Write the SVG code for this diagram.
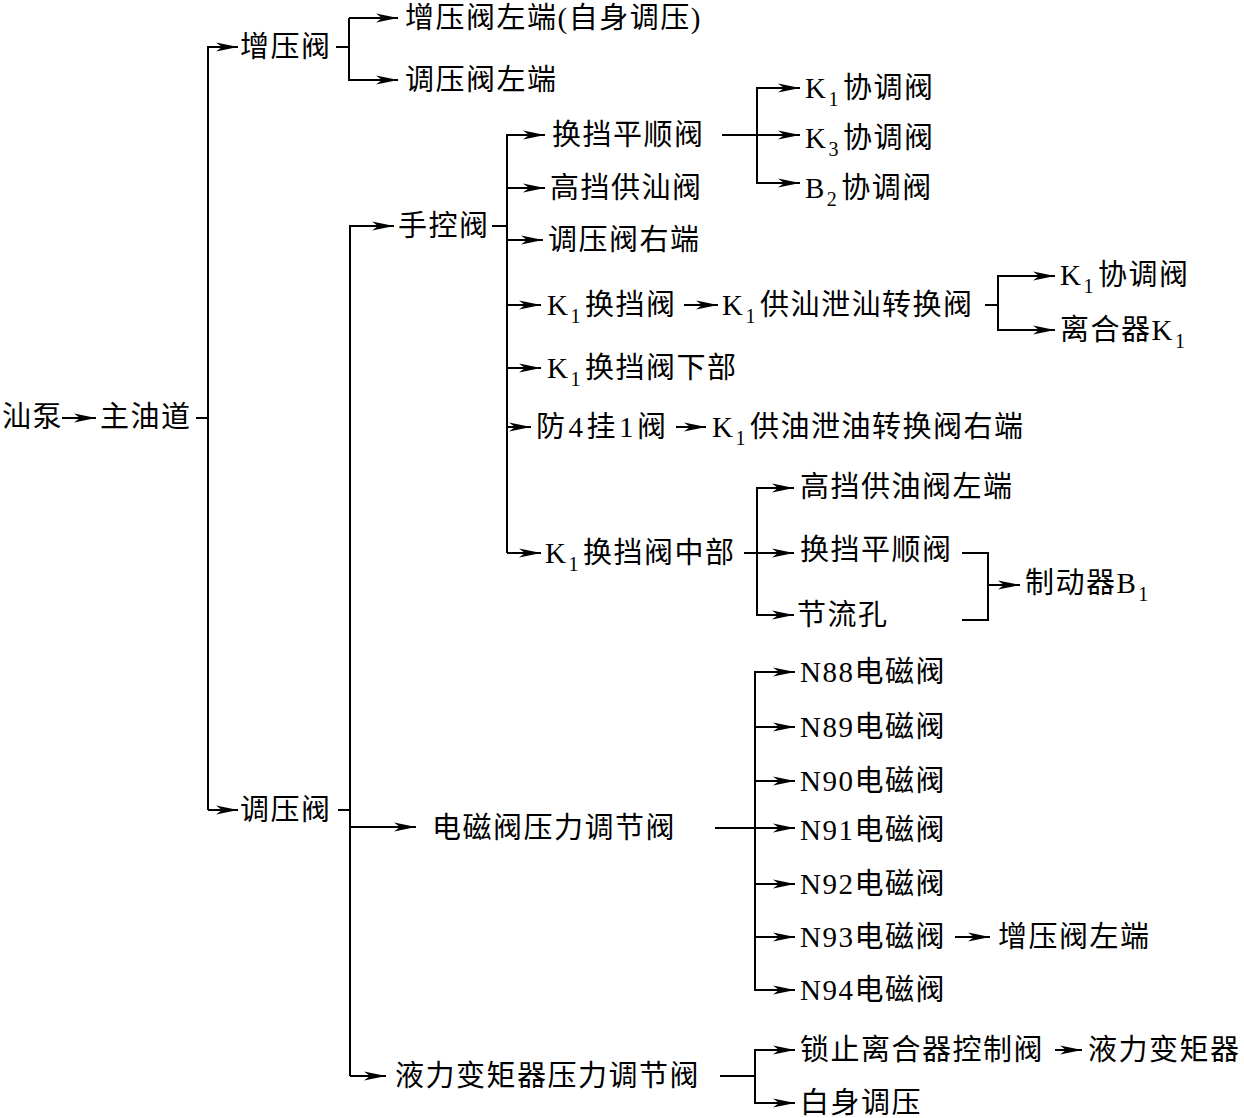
<svg xmlns="http://www.w3.org/2000/svg" width="1244" height="1118" viewBox="0 0 1244 1118">
<defs>
<style>
.t{font-family:"Liberation Serif","Noto Sans CJK SC",serif;font-size:29px;fill:#000;letter-spacing:1.5px}
.s{font-size:20px}
.c path{fill:none;stroke:#000;stroke-width:2}
</style>
<marker id="a" markerUnits="userSpaceOnUse" markerWidth="22" markerHeight="10" refX="22" refY="5" orient="auto">
<path d="M0,0.5 L22,5 L0,9.5 L6,5 z" fill="#000"/>
</marker>
</defs>
<rect width="1244" height="1118" fill="#fff"/>
<g class="c">
<path d="M62,418 H96" marker-end="url(#a)"/>
<path d="M196,418 H208"/>
<path d="M208,810 V47 H238" marker-end="url(#a)"/>
<path d="M208,810 H238" marker-end="url(#a)"/>
<path d="M336,47 H349"/>
<path d="M349,18 V80 H398" marker-end="url(#a)"/>
<path d="M349,18 H398" marker-end="url(#a)"/>
<path d="M338,810 H350"/>
<path d="M350,1076 V226 H394" marker-end="url(#a)"/>
<path d="M350,827 H416" marker-end="url(#a)"/>
<path d="M350,1076 H386" marker-end="url(#a)"/>
<path d="M492,226 H507"/>
<path d="M507,553 V135 H545" marker-end="url(#a)"/>
<path d="M507,188 H545" marker-end="url(#a)"/>
<path d="M507,240 H543" marker-end="url(#a)"/>
<path d="M507,305 H541" marker-end="url(#a)"/>
<path d="M507,368 H541" marker-end="url(#a)"/>
<path d="M507,427 H531" marker-end="url(#a)"/>
<path d="M507,553 H541" marker-end="url(#a)"/>
<path d="M722,135 H757"/>
<path d="M757,135 V88 H800" marker-end="url(#a)"/>
<path d="M757,135 H800" marker-end="url(#a)"/>
<path d="M757,135 V183 H800" marker-end="url(#a)"/>
<path d="M684,305 H718" marker-end="url(#a)"/>
<path d="M985,305 H998"/>
<path d="M998,305 V276 H1055" marker-end="url(#a)"/>
<path d="M998,305 V330 H1055" marker-end="url(#a)"/>
<path d="M676,427 H706" marker-end="url(#a)"/>
<path d="M744,553 H757"/>
<path d="M757,553 V488 H794" marker-end="url(#a)"/>
<path d="M757,553 H794" marker-end="url(#a)"/>
<path d="M757,553 V615 H794" marker-end="url(#a)"/>
<path d="M962,553 H988 V620 H962"/>
<path d="M988,585 H1020" marker-end="url(#a)"/>
<path d="M715,828 H755"/>
<path d="M755,828 V672 H795" marker-end="url(#a)"/>
<path d="M755,727 H795" marker-end="url(#a)"/>
<path d="M755,781 H795" marker-end="url(#a)"/>
<path d="M755,828 H795" marker-end="url(#a)"/>
<path d="M755,884 H795" marker-end="url(#a)"/>
<path d="M755,828 V990 H795" marker-end="url(#a)"/>
<path d="M755,937 H795" marker-end="url(#a)"/>
<path d="M955,937 H990" marker-end="url(#a)"/>
<path d="M720,1076 H755"/>
<path d="M755,1076 V1050 H795" marker-end="url(#a)"/>
<path d="M755,1076 V1103 H795" marker-end="url(#a)"/>
<path d="M1055,1050 H1082" marker-end="url(#a)"/>
</g>
<g id="n-pump"><text class="t" x="2" y="427">汕泵</text></g>
<g id="n-main"><text class="t" x="100" y="427">主油道</text></g>
<g id="n-zyf"><text class="t" x="240" y="57">增压阀</text></g>
<g id="n-zyf-l"><text class="t" x="405" y="28">增压阀左端(自身调压)</text></g>
<g id="n-tyf-l"><text class="t" x="405" y="90">调压阀左端</text></g>
<g id="n-skf"><text class="t" x="398" y="236">手控阀</text></g>
<g id="n-hdps1"><text class="t" x="552" y="145">换挡平顺阀</text></g>
<g id="n-gdgy"><text class="t" x="550" y="198">高挡供汕阀</text></g>
<g id="n-tyf-r"><text class="t" x="548" y="250">调压阀右端</text></g>
<g id="n-k1hd"><text class="t" x="547" y="315">K<tspan class="s" dx="1" dy="8">1</tspan><tspan dx="3" dy="-8">换挡阀</tspan></text></g>
<g id="n-k1hd-x"><text class="t" x="547" y="378">K<tspan class="s" dx="1" dy="8">1</tspan><tspan dx="3" dy="-8">换挡阀下部</tspan></text></g>
<g id="n-f41"><text class="t" x="536" y="437" style="letter-spacing:3.5px">防4挂1阀</text></g>
<g id="n-k1hd-z"><text class="t" x="545" y="563">K<tspan class="s" dx="1" dy="8">1</tspan><tspan dx="3" dy="-8">换挡阀中部</tspan></text></g>
<g id="n-k1xt"><text class="t" x="805" y="98">K<tspan class="s" dx="1" dy="8">1</tspan><tspan dx="3" dy="-8">协调阀</tspan></text></g>
<g id="n-k3xt"><text class="t" x="805" y="148">K<tspan class="s" dx="1" dy="8">3</tspan><tspan dx="3" dy="-8">协调阀</tspan></text></g>
<g id="n-b2xt"><text class="t" x="805" y="198">B<tspan class="s" dx="1" dy="8">2</tspan><tspan dx="3" dy="-8">协调阀</tspan></text></g>
<g id="n-k1gyxy"><text class="t" x="722" y="315">K<tspan class="s" dx="1" dy="8">1</tspan><tspan dx="3" dy="-8">供汕泄汕转换阀</tspan></text></g>
<g id="n-k1xt2"><text class="t" x="1060" y="285">K<tspan class="s" dx="1" dy="8">1</tspan><tspan dx="3" dy="-8">协调阀</tspan></text></g>
<g id="n-lhq"><text class="t" x="1060" y="340">离合器K<tspan class="s" dx="1" dy="8">1</tspan></text></g>
<g id="n-k1gyxy-r"><text class="t" x="712" y="437">K<tspan class="s" dx="1" dy="8">1</tspan><tspan dx="3" dy="-8">供油泄油转换阀右端</tspan></text></g>
<g id="n-gdgy-l"><text class="t" x="800" y="497">高挡供油阀左端</text></g>
<g id="n-hdps2"><text class="t" x="800" y="560">换挡平顺阀</text></g>
<g id="n-jlk"><text class="t" x="797" y="625">节流孔</text></g>
<g id="n-b1"><text class="t" x="1025" y="593">制动器B<tspan class="s" dx="1" dy="8">1</tspan></text></g>
<g id="n-tyf"><text class="t" x="240" y="820">调压阀</text></g>
<g id="n-dcf"><text class="t" x="432" y="838">电磁阀压力调节阀</text></g>
<g id="n-n88"><text class="t" x="800" y="682">N88电磁阀</text></g>
<g id="n-n89"><text class="t" x="800" y="737">N89电磁阀</text></g>
<g id="n-n90"><text class="t" x="800" y="791">N90电磁阀</text></g>
<g id="n-n91"><text class="t" x="800" y="840">N91电磁阀</text></g>
<g id="n-n92"><text class="t" x="800" y="894">N92电磁阀</text></g>
<g id="n-n93"><text class="t" x="800" y="947">N93电磁阀</text></g>
<g id="n-n94"><text class="t" x="800" y="1000">N94电磁阀</text></g>
<g id="n-zyf-l2"><text class="t" x="998" y="947">增压阀左端</text></g>
<g id="n-ylbj"><text class="t" x="395" y="1086">液力变矩器压力调节阀</text></g>
<g id="n-szlhq"><text class="t" x="800" y="1060">锁止离合器控制阀</text></g>
<g id="n-ylbjq"><text class="t" x="1088" y="1060">液力变矩器</text></g>
<g id="n-zstz"><text class="t" x="800" y="1113">白身调压</text></g>
</svg>
